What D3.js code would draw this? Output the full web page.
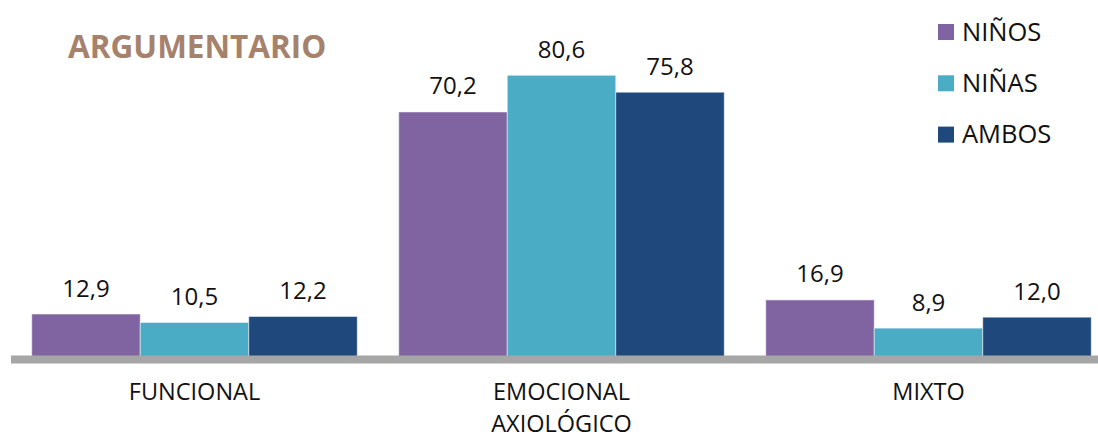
<!DOCTYPE html>
<html><head><meta charset="utf-8">
<script src="https://cdn.jsdelivr.net/npm/d3@7"></script>
<style>body{margin:0;background:#fff;}svg{display:block;font-family:"Open Sans",sans-serif;}</style>
</head><body><svg id="c" width="1098" height="439"></svg>
<script>
const categories = [["FUNCIONAL"], ["EMOCIONAL", "AXIOLÓGICO"], ["MIXTO"]];
const seriesNames = ["NIÑOS", "NIÑAS", "AMBOS"];
const ninos = [12.9, 70.2, 16.9];
const ninas = [10.5, 80.6, 8.9];
const ambos = [12.2, 75.8, 12.0];
const colors = ["#8064A2", "#4BACC6", "#1F497D"];
const title = "ARGUMENTARIO";

const series = [ninos, ninas, ambos];
const svg = d3.select("#c");
const catKeys = categories.map(c => c.join(" "));
const x0 = d3.scaleBand().domain(catKeys).range([11, 1112]).paddingInner(0.113).paddingOuter(0.0565);
const x1 = d3.scaleBand().domain(seriesNames).range([0, x0.bandwidth()]);
const y = d3.scaleLinear().domain([0, 80.6]).range([359.5, 75.3]);

const g = svg.append("g");
catKeys.forEach((ck, i) => {
  const gg = g.append("g").attr("transform", `translate(${x0(ck)},0)`);
  seriesNames.forEach((s, j) => {
    const v = series[j][i];
    gg.append("rect").attr("x", x1(s)).attr("width", x1.bandwidth())
      .attr("y", y(v)).attr("height", y(0) - y(v))
      .attr("fill", colors[j]).attr("stroke", "rgba(255,255,255,0.5)").attr("stroke-width", 1);
    gg.append("text").attr("x", x1(s) + x1.bandwidth() / 2).attr("y", y(v) - 17.5)
      .attr("text-anchor", "middle").attr("font-size", 24).attr("fill", "#111")
      .text(v.toFixed(1).replace(".", ","));
  });
});

// axis line
svg.append("line").attr("x1", 11).attr("x2", 1112).attr("y1", y(0)).attr("y2", y(0))
  .attr("stroke", "#A6A6A6").attr("stroke-width", 8);

// category labels
categories.forEach((c, i) => {
  const t = svg.append("text").attr("x", x0(catKeys[i]) + x0.bandwidth() / 2).attr("y", 400)
    .attr("text-anchor", "middle").attr("font-size", 23.5).attr("fill", "#111");
  c.forEach((line, k) => t.append("tspan").attr("x", x0(catKeys[i]) + x0.bandwidth() / 2)
    .attr("dy", k === 0 ? 0 : 32).text(line));
});

// title
svg.append("text").attr("x", 68).attr("y", 57.5).attr("font-size", 31.5).attr("font-weight", "bold")
  .attr("fill", "#A6826C").text(title);

// legend
seriesNames.forEach((s, j) => {
  const ly = 24 + j * 51.3;
  svg.append("rect").attr("x", 938).attr("y", ly).attr("width", 16).attr("height", 16).attr("fill", colors[j]);
  svg.append("text").attr("x", 962).attr("y", ly + 16.7).attr("font-size", 25.5).attr("fill", "#111").text(s);
});
</script></body></html>
